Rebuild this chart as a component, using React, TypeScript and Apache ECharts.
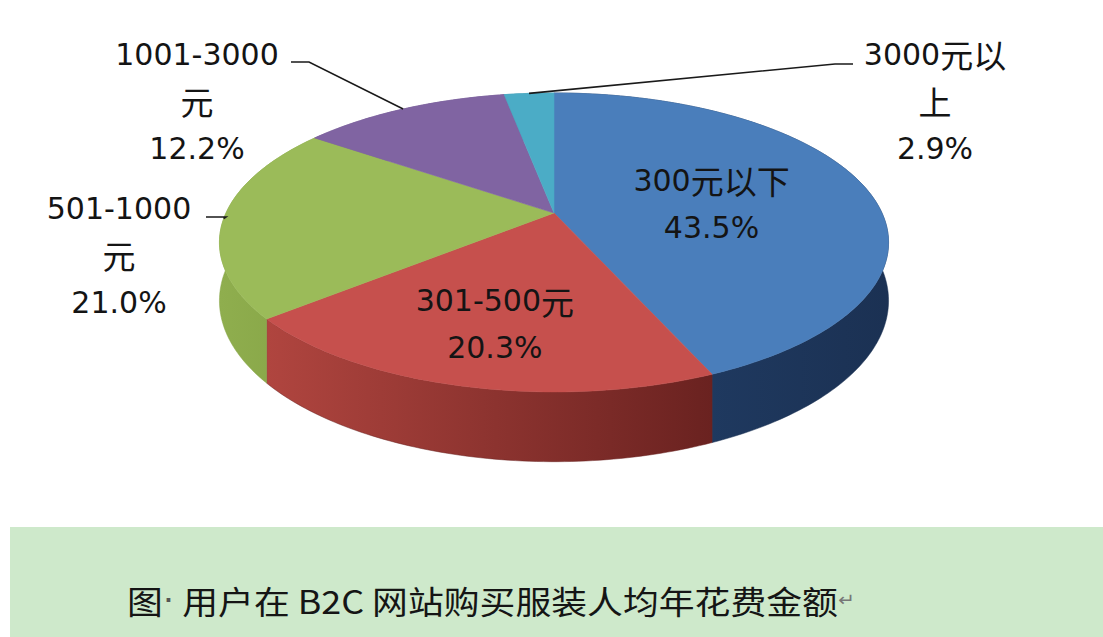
import React, { useEffect, useRef } from "react";
import * as echarts from "echarts";

// ---- data ----
const categories = ["300元以下", "301-500元", "501-1000元", "1001-3000元", "3000元以上"];
const shares = [43.5, 20.3, 21.0, 12.2, 2.9];
const captionText = "图· 用户在 B2C 网站购买服装人均年花费金额";

// ---- styles / layout ----
const topColors = ["#4a7ebb", "#c6504d", "#9bbb59", "#8064a2", "#4bacc6"];
const sideColors = [
  ["#22406a", "#1b3153"],
  ["#b0453f", "#6a2220"],
  ["#8fae4e", "#86a446"],
  ["#6a5088", "#6a5088"],
  ["#3b8ea6", "#3b8ea6"],
];
const PIE = { cx: 554, cy: 213, a: 143.7, b: 328, k: 0.197, h: 56 };
const labelLayout: any[] = [
  { inside: true, r: 0.5, dy: 5, split: 0 },
  { inside: true, r: 0.68, dy: 2, split: 0 },
  { inside: false, split: 8, cx: 119, cy: 255, leader: [[226, 217], [206, 217]] },
  { inside: false, split: 9, cx: 197, cy: 101, leader: [[309, 62], [291, 62]] },
  { inside: false, split: 6, cx: 935, cy: 101, leader: [[835, 64], [853, 64]] },
];

const richify = (s: string) => s.replace(/([\u3400-\u9fff]+)/g, "{c|$1}");

export default function App() {
  const ref = useRef<HTMLDivElement>(null);
  useEffect(() => {
    const chart = echarts.init(ref.current!, null, { renderer: "svg" });
    const total = shares.reduce((s, v) => s + v, 0);
    const starts: number[] = [];
    let acc = 0;
    shares.forEach((v) => {
      starts.push(acc);
      acc += v;
    });
    const proj = (theta: number, r = 1, drop = 0) => {
      const x = r * Math.sin(theta);
      const z = -r * Math.cos(theta);
      const w = 1 - PIE.k * z;
      return [PIE.cx + (PIE.b * x) / w, PIE.cy + (PIE.a * z + drop) / w];
    };
    const textStyleBase = {
      fontFamily: "'DejaVu Sans', sans-serif",
      fontSize: 30,
      lineHeight: 47,
      fill: "#141414",
      align: "center",
      verticalAlign: "middle",
      rich: {
        c: {
          fontFamily: "'Noto Sans CJK SC'",
          fontSize: 33,
          lineHeight: 47,
          fill: "#141414",
        },
      },
    };

    const renderItem = (params: any, api: any) => {
      const i = params.dataIndex;
      const v = api.value(0);
      const t1 = (starts[i] / total) * Math.PI * 2;
      const t2 = ((starts[i] + v) / total) * Math.PI * 2;
      const n = Math.max(2, Math.ceil((t2 - t1) / (Math.PI / 180)) + 1);
      const rim: number[][] = [];
      const bottom: number[][] = [];
      for (let j = 0; j < n; j++) {
        const t = t1 + ((t2 - t1) * j) / (n - 1);
        rim.push(proj(t));
        bottom.push(proj(t, 1, PIE.h));
      }
      const children: any[] = [];
      children.push({
        type: "polygon",
        z2: 1,
        shape: { points: rim.concat(bottom.slice().reverse()) },
        style: {
          fill: new echarts.graphic.LinearGradient(0, 0, 1, 0, [
            { offset: 0, color: sideColors[i][0] },
            { offset: 1, color: sideColors[i][1] },
          ]),
          stroke: sideColors[i][1],
          lineWidth: 0.5,
        },
      });
      children.push({
        type: "polygon",
        z2: 10,
        shape: { points: [[PIE.cx, PIE.cy]].concat(rim) },
        style: { fill: topColors[i], stroke: topColors[i], lineWidth: 0.6 },
      });
      const L = labelLayout[i];
      const name = categories[i];
      const nameText = L.split ? name.slice(0, L.split) + "\n" + name.slice(L.split) : name;
      const text = richify(nameText) + "\n" + v.toFixed(1) + "%";
      const mid = (t1 + t2) / 2;
      if (L.inside) {
        const p = proj(mid, L.r);
        children.push({
          type: "text",
          z2: 20,
          style: { ...textStyleBase, text, x: p[0], y: p[1] + L.dy },
        });
      } else {
        const p = proj(mid);
        children.push({
          type: "polyline",
          z2: 20,
          shape: { points: [p].concat(L.leader) },
          style: { stroke: "#1a1a1a", lineWidth: 1.6, fill: null },
        });
        children.push({
          type: "text",
          z2: 20,
          style: { ...textStyleBase, text, x: L.cx, y: L.cy },
        });
      }
      return { type: "group", children };
    };

    chart.setOption({
      animation: false,
      backgroundColor: "#ffffff",
      series: [
        {
          type: "custom",
          coordinateSystem: "none",
          renderItem,
          data: shares.map((v, i) => ({ value: [v], name: categories[i] })),
        },
      ],
      graphic: [
        {
          type: "rect",
          shape: { x: 10, y: 527, width: 1093, height: 110 },
          style: { fill: "#cee9cb" },
          z: 0,
        },
        {
          type: "text",
          x: 127,
          y: 600,
          z: 1,
          scaleX: 1.12,
          style: {
            text: captionText.replace("·", "{d|·}") + "{r|↵}",
            fontFamily: "'Noto Sans CJK SC'",
            fontSize: 32,
            fill: "#151515",
            verticalAlign: "middle",
            rich: {
              d: { fontSize: 32, fill: "#555555", fontFamily: "'DejaVu Sans'" },
              r: { fontSize: 18, fill: "#777777", fontFamily: "'DejaVu Sans'" },
            },
          },
        },
      ],
    });
    return () => chart.dispose();
  }, []);
  return (
    <div
      ref={ref}
      style={{ position: "fixed", left: 0, top: 0, width: 1103, height: 637, background: "#fff" }}
    />
  );
}
